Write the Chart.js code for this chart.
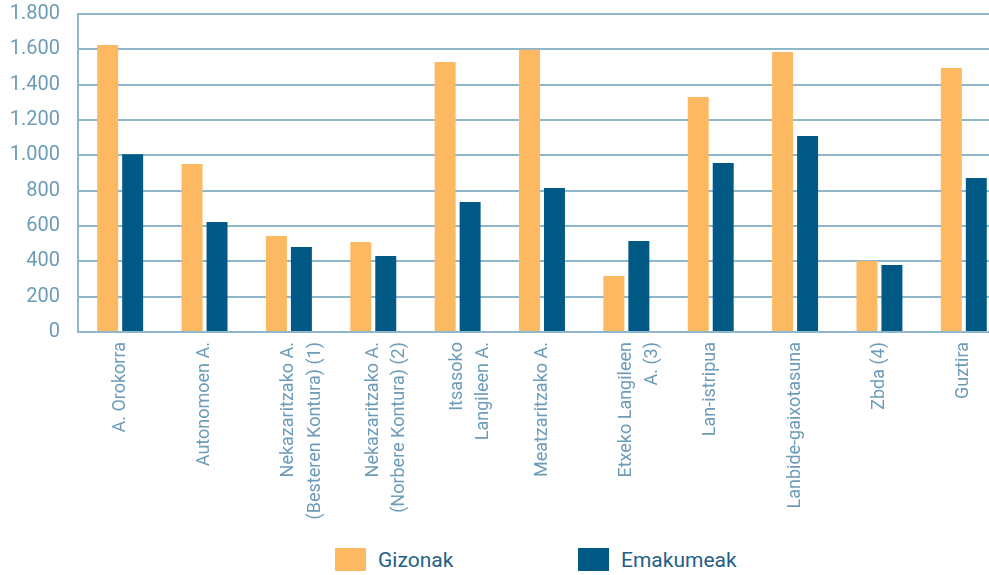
<!DOCTYPE html>
<html>
<head>
<meta charset="utf-8">
<script src="https://cdn.jsdelivr.net/npm/chart.js@4/dist/chart.umd.min.js"></script>
<style>
  html, body { margin: 0; padding: 0; background: #fff; overflow: hidden; }
  #wrap { position: relative; width: 989px; height: 575px; overflow: hidden; }
  #box { position: absolute; left: 0; top: 0; width: 1006px; height: 540px; }
  .leg { position: absolute; top: 548px; height: 23px; display: flex; align-items: center;
         font-family: "Roboto", sans-serif; font-size: 21px; color: #235f86; }
  .leg span.sw { display: inline-block; width: 31px; height: 23px; margin-right: 12px; }
</style>
</head>
<body>
<div id="wrap">
  <div id="box"><canvas id="grafico"></canvas></div>
  <div id="legenda"></div>
</div>
<script>
// ==========================
// DATUAK
// ==========================
const kategoriak = [
  "A. Orokorra",
  "Autonomoen A.",
  ["Nekazaritzako A.", "(Besteren Kontura) (1)"],
  ["Nekazaritzako A.", "(Norbere Kontura) (2)"],
  ["Itsasoko", "Langileen A."],
  "Meatzaritzako A.",
  ["Etxeko Langileen", "A. (3)"],
  "Lan-istripua",
  "Lanbide-gaixotasuna",
  "Zbda (4)",
  "Guztira"
];
const gizonak = [1624, 951, 543, 509, 1528, 1598, 317, 1330, 1585, 402, 1494];
const emakumeak = [1006, 623, 481, 430, 736, 815, 515, 957, 1109, 379, 872];
const yTicks = [0, 200, 400, 600, 800, 1000, 1200, 1400, 1600, 1800];

const kolorea = { giz: "#fcb962", ema: "#005a85", testua: "#6c9cb8", sareta: "#8fb6ca" };
const letra = "'Roboto', sans-serif";

const formatu = v => String(v).replace(/\B(?=(\d{3})+(?!\d))/g, ".");

// ==========================
// GRAFIKOA
// ==========================
const ctx = document.getElementById("grafico");
const chart = new Chart(ctx, {
  type: "bar",
  data: {
    labels: kategoriak,
    datasets: [
      { label: "Gizonak", data: gizonak, backgroundColor: kolorea.giz },
      { label: "Emakumeak", data: emakumeak, backgroundColor: kolorea.ema }
    ]
  },
  options: {
    responsive: true,
    maintainAspectRatio: false,
    animation: false,
    datasets: { bar: { categoryPercentage: 0.592, barPercentage: 0.84 } },
    layout: { padding: { top: 14, left: 0, right: 0, bottom: 0 } },
    plugins: { legend: { display: false }, tooltip: { enabled: false } },
    scales: {
      x: {
        grid: { display: false, drawTicks: false },
        border: { display: true, color: kolorea.sareta, width: 2 },
        ticks: {
          autoSkip: false, minRotation: 90, maxRotation: 90, padding: 10,
          color: kolorea.testua, font: { family: letra, size: 18, lineHeight: 1.45 }
        },
        afterFit: s => { s.height = 208; s.paddingTop = 0; s.paddingBottom = 0; }
      },
      y: {
        min: 0, max: 1800,
        afterBuildTicks: s => { s.ticks = yTicks.map(v => ({ value: v })); },
        grid: { color: kolorea.sareta, lineWidth: 2, drawTicks: false },
        border: { display: true, color: kolorea.sareta, width: 2 },
        ticks: {
          padding: 18, color: kolorea.testua,
          font: { family: letra, size: 20 },
          callback: v => formatu(v)
        },
        afterFit: s => { s.width = 78; s.paddingTop = 0; s.paddingBottom = 0; }
      }
    }
  }
});

// ==========================
// LEGENDA
// ==========================
const legenda = document.getElementById("legenda");
const legPos = [335, 578];
chart.data.datasets.forEach((d, i) => {
  const el = document.createElement("div");
  el.className = "leg";
  el.style.left = legPos[i] + "px";
  el.innerHTML = '<span class="sw" style="background:' + d.backgroundColor + '"></span>' + d.label;
  legenda.appendChild(el);
});
</script>
</body>
</html>
